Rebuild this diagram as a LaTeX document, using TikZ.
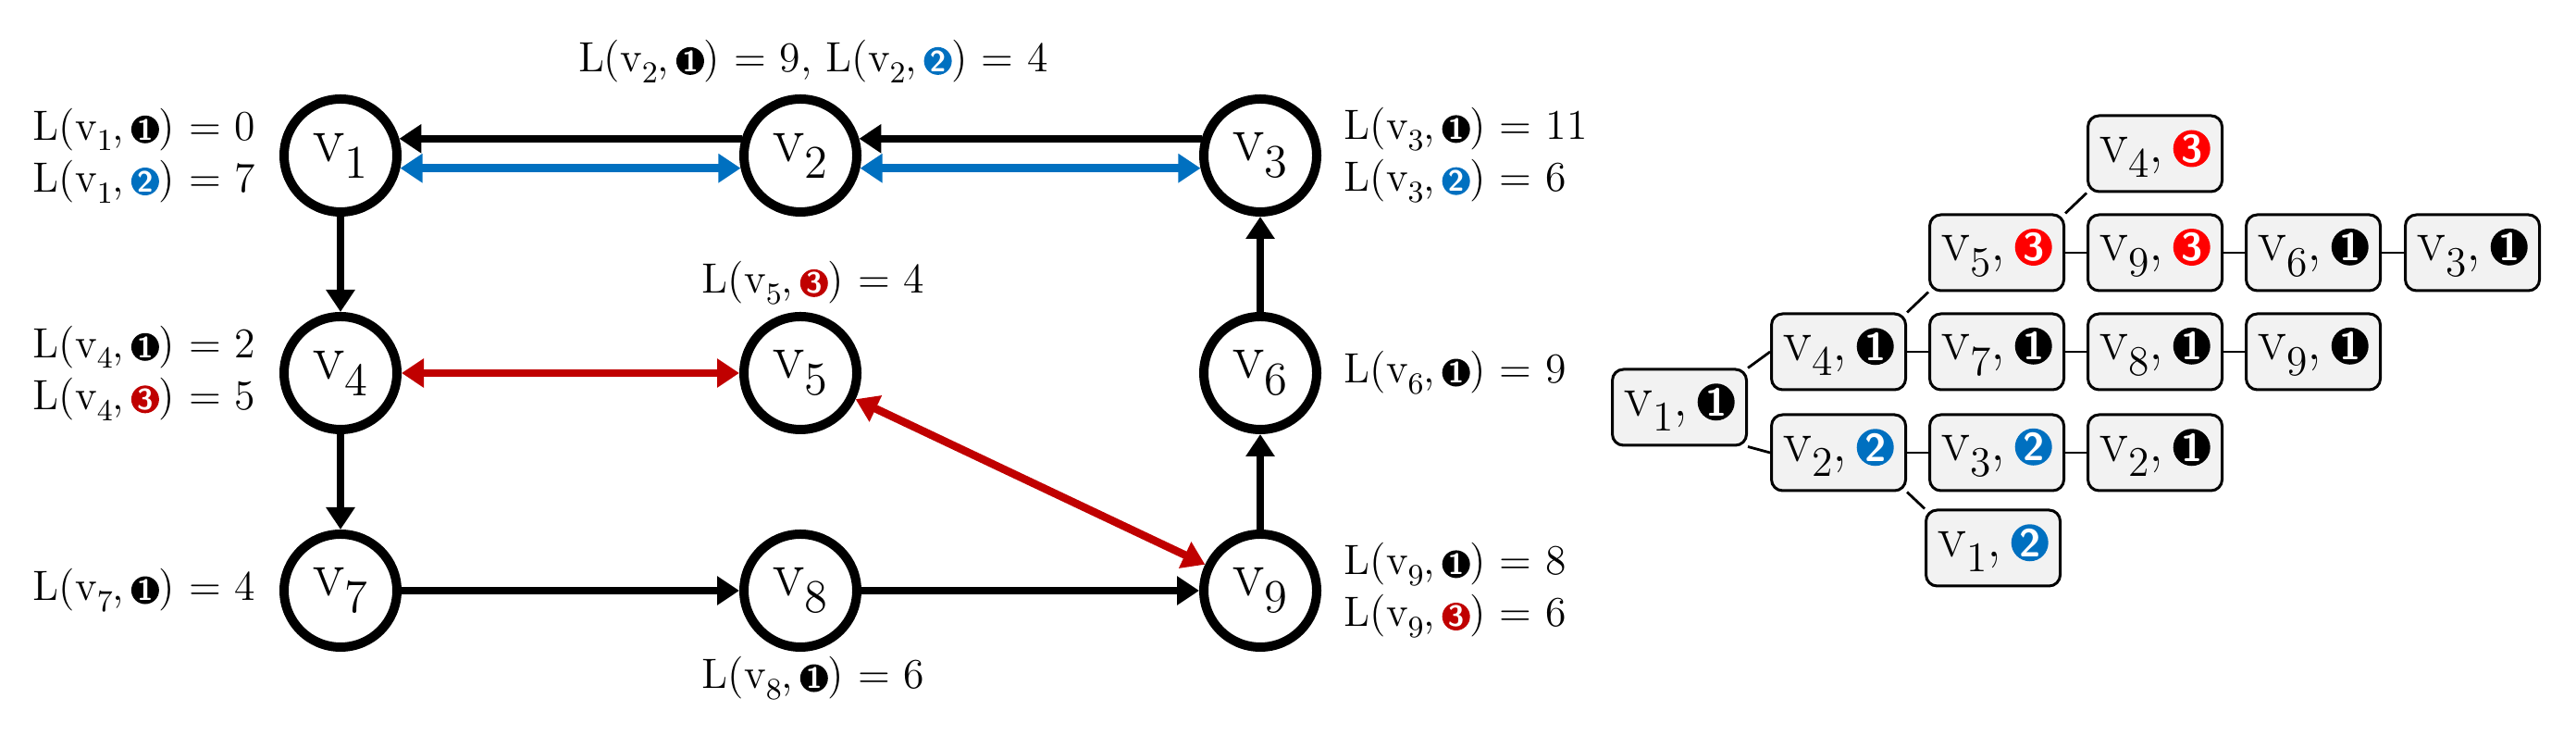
\documentclass[tikz,border=0pt]{standalone}
\usetikzlibrary{arrows.meta}
\definecolor{cblue}{HTML}{0070C0}
\definecolor{cred}{HTML}{C00000}
\definecolor{tred}{HTML}{FF0000}
\definecolor{boxg}{HTML}{F2F2F2}
\makeatletter
\newcommand\vv[1]{v\raisebox{-0.6ex}{\fontsize{\the\dimexpr 0.72\dimexpr\f@size pt\relax\relax}{0pt}\selectfont #1}}
\makeatother
\newcommand\bdg[2]{\tikz[baseline=(b.base)]\node[circle,fill=#1,text=white,inner sep=0pt,minimum size=0.3cm,font=\sffamily\bfseries\fontsize{9}{9}\selectfont](b){#2};}
\newcommand\tbdg[2]{\tikz[baseline=(b.base)]\node[circle,fill=#1,text=white,inner sep=0pt,minimum size=0.4cm,font=\sffamily\bfseries\fontsize{12}{12}\selectfont](b){#2};}
\newcommand\Lab[3]{L(\vv{#1},\,\bdg{#2}{#3}) = }
\begin{document}
\begin{tikzpicture}[
  vx/.style={circle,draw,line width=0.1cm,minimum size=1.22cm,inner sep=0pt,font=\fontsize{20}{22}\selectfont},
  lab/.style={font=\fontsize{13}{16}\selectfont,inner sep=0pt},
  ed/.style={line width=0.085cm,-{Triangle[length=0.24cm,width=0.3cm]}},
  bed/.style={line width=0.085cm,{Triangle[length=0.24cm,width=0.3cm]}-{Triangle[length=0.24cm,width=0.3cm]}},
  tb/.style={draw,fill=boxg,rounded corners=0.12cm,line width=0.03cm,minimum width=1.45cm,minimum height=0.82cm,inner sep=0pt,font=\fontsize{18}{20}\selectfont},
  tl/.style={line width=0.028cm}
]
\useasboundingbox (0,0) rectangle (27.84,7.95);
% graph nodes
\node[vx] (v1) at (3.68,6.27) {\vv{1}};
\node[vx] (v2) at (8.65,6.27) {\vv{2}};
\node[vx] (v3) at (13.62,6.27) {\vv{3}};
\node[vx] (v4) at (3.68,3.92) {\vv{4}};
\node[vx] (v5) at (8.65,3.92) {\vv{5}};
\node[vx] (v6) at (13.62,3.92) {\vv{6}};
\node[vx] (v7) at (3.68,1.57) {\vv{7}};
\node[vx] (v8) at (8.65,1.57) {\vv{8}};
\node[vx] (v9) at (13.62,1.57) {\vv{9}};
% edges
\draw[ed] (v2.164) -- (v1.16);
\draw[ed] (v3.164) -- (v2.16);
\draw[bed,cblue] (v1.-12) -- (v2.192);
\draw[bed,cblue] (v2.-12) -- (v3.192);
\draw[ed] (v1) -- (v4);
\draw[ed] (v4) -- (v7);
\draw[ed] (v7) -- (v8);
\draw[ed] (v8) -- (v9);
\draw[ed] (v9) -- (v6);
\draw[ed] (v6) -- (v3);
\draw[bed,cred] (v4) -- (v5);
\draw[bed,cred] (v5) -- (v9);
% labels
\node[lab,anchor=east,align=right] (l1) at (2.77,6.27) {\Lab{1}{black}{1}0\\\Lab{1}{cblue}{2}7};
\node[lab,anchor=east,align=right] (l4) at (2.77,3.92) {\Lab{4}{black}{1}2\\\Lab{4}{cred}{3}5};
\node[lab,anchor=east] (l7) at (2.77,1.57) {\Lab{7}{black}{1}4};
\node[lab] (l2) at (8.79,7.29) {\Lab{2}{black}{1}9, \Lab{2}{cblue}{2}4};
\node[lab] (l5) at (8.79,4.89) {\Lab{5}{cred}{3}4};
\node[lab] (l8) at (8.79,0.62) {\Lab{8}{black}{1}6};
\node[lab,anchor=west,align=left] (l3) at (14.52,6.27) {\Lab{3}{black}{1}11\\\Lab{3}{cblue}{2}6};
\node[lab,anchor=west] (l6) at (14.52,3.92) {\Lab{6}{black}{1}9};
\node[lab,anchor=west,align=left] (l9) at (14.52,1.57) {\Lab{9}{black}{1}8\\\Lab{9}{cred}{3}6};
% tree
\node[tb] (t1) at (18.15,3.55) {\vv{1},\,\tbdg{black}{1}};
\node[tb] (t4) at (19.87,4.15) {\vv{4},\,\tbdg{black}{1}};
\node[tb] (t2) at (19.87,3.06) {\vv{2},\,\tbdg{cblue}{2}};
\node[tb] (t5) at (21.58,5.22) {\vv{5},\,\tbdg{tred}{3}};
\node[tb] (t7) at (21.58,4.15) {\vv{7},\,\tbdg{black}{1}};
\node[tb] (t3b) at (21.58,3.06) {\vv{3},\,\tbdg{cblue}{2}};
\node[tb] (t1b) at (21.54,2.03) {\vv{1},\,\tbdg{cblue}{2}};
\node[tb] (t43) at (23.29,6.29) {\vv{4},\,\tbdg{tred}{3}};
\node[tb] (t93) at (23.29,5.22) {\vv{9},\,\tbdg{tred}{3}};
\node[tb] (t8) at (23.29,4.15) {\vv{8},\,\tbdg{black}{1}};
\node[tb] (t21) at (23.29,3.06) {\vv{2},\,\tbdg{black}{1}};
\node[tb] (t6) at (25.00,5.22) {\vv{6},\,\tbdg{black}{1}};
\node[tb] (t9) at (25.00,4.15) {\vv{9},\,\tbdg{black}{1}};
\node[tb] (t31) at (26.72,5.22) {\vv{3},\,\tbdg{black}{1}};
\draw[tl] (t1.north east) -- (t4.west);
\draw[tl] (t1.south east) -- (t2.west);
\draw[tl] (t4.north east) -- (t5.south west);
\draw[tl] (t5.north east) -- (t43.south west);
\draw[tl] (t2.south east) -- (t1b.north west);
\draw[tl] (t4) -- (t7);
\draw[tl] (t7) -- (t8);
\draw[tl] (t8) -- (t9);
\draw[tl] (t5) -- (t93);
\draw[tl] (t93) -- (t6);
\draw[tl] (t6) -- (t31);
\draw[tl] (t2) -- (t3b);
\draw[tl] (t3b) -- (t21);
\end{tikzpicture}
\end{document}
